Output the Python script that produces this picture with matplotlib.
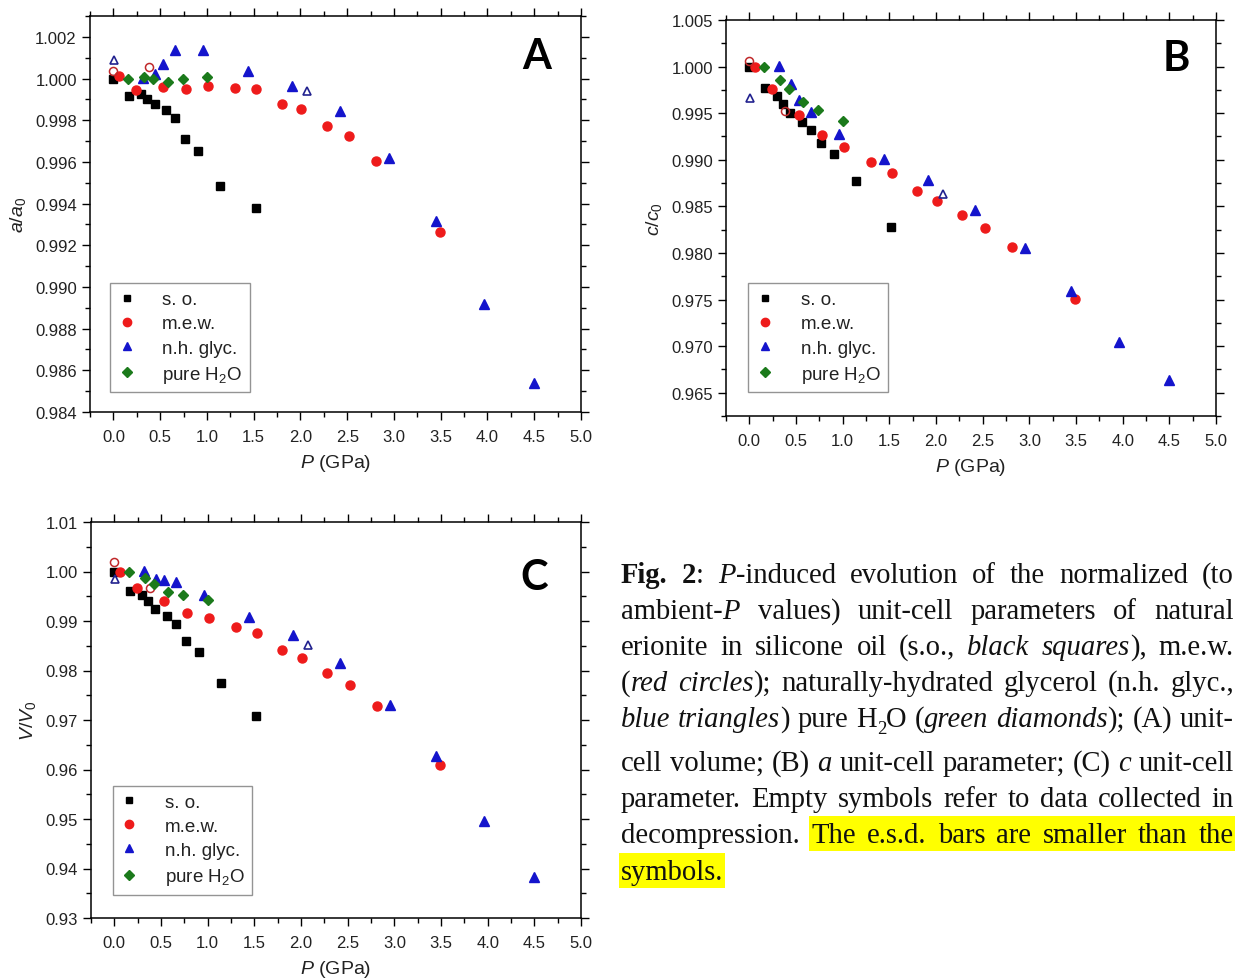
import matplotlib
matplotlib.use("Agg")
import matplotlib.pyplot as plt
from matplotlib.ticker import MultipleLocator, FormatStrFormatter
from matplotlib.patches import Rectangle
from matplotlib.lines import Line2D

# ---------------- data ----------------
P_so = [0.00, 0.17, 0.30, 0.36, 0.44, 0.56, 0.66, 0.77, 0.91, 1.14, 1.52]
P_mew = [0.06, 0.24, 0.53, 0.78, 1.01, 1.30, 1.53, 1.80, 2.01, 2.28, 2.52, 2.81, 3.49]
P_mew_dec = [0.00, 0.38]
P_glyc = [0.32, 0.45, 0.53, 0.66, 0.96, 1.44, 1.91, 2.42, 2.95, 3.45, 3.96, 4.50]
P_glyc_dec = [0.01, 2.07]
P_h2o = [0.16, 0.33, 0.42, 0.58, 0.74, 1.00]

# panel A : a/a0
a_so = [1.0000, 0.99918, 0.99925, 0.99902, 0.99878, 0.99851, 0.99810, 0.99709, 0.99650, 0.99486, 0.99380]
a_mew = [1.00013, 0.99947, 0.99960, 0.99952, 0.99963, 0.99955, 0.99952, 0.99878, 0.99853, 0.99773, 0.99723, 0.99605, 0.99264]
a_mew_dec = [1.00037, 1.00056]
a_glyc = [1.00003, 1.00024, 1.00072, 1.00136, 1.00136, 1.00037, 0.99966, 0.99843, 0.99621, 0.99317, 0.98920, 0.98538]
a_glyc_dec = [1.00091, 0.99939]
a_h2o = [1.0000, 1.00008, 0.99998, 0.99981, 0.99997, 1.00006]

# panel B : c/c0
c_so = [1.0000, 0.99775, 0.99681, 0.99599, 0.99499, 0.99409, 0.99316, 0.99177, 0.99062, 0.98772, 0.98283]
c_mew = [0.99996, 0.99764, 0.99485, 0.99270, 0.99134, 0.98976, 0.98858, 0.98663, 0.98556, 0.98404, 0.98270, 0.98061, 0.97511]
c_mew_dec = [1.00061, 0.99520]
c_glyc = [1.00007, 0.99810, 0.99642, 0.99517, 0.99281, 0.99005, 0.98785, 0.98457, 0.98054, 0.97593, 0.97043, 0.96639]
c_glyc_dec = [0.99667, 0.98629]
c_h2o = [1.0000, 0.99860, 0.99757, 0.99624, 0.99531, 0.99413]

# panel C : V/V0
V_so = [1.0000, 0.99608, 0.99534, 0.99399, 0.99250, 0.99108, 0.98932, 0.98588, 0.98365, 0.97757, 0.97078]
V_mew = [1.0000, 0.99662, 0.99405, 0.99169, 0.99068, 0.98885, 0.98757, 0.98412, 0.98257, 0.97953, 0.97716, 0.97277, 0.96081]
V_mew_dec = [1.00189, 0.99676]
V_glyc = [1.00014, 0.99858, 0.99831, 0.99797, 0.99534, 0.99074, 0.98716, 0.98155, 0.97311, 0.96264, 0.94960, 0.93831]
V_glyc_dec = [0.99845, 0.98514]
V_h2o = [1.0000, 0.99865, 0.99743, 0.99581, 0.99520, 0.99419]

series_labels = ["s. o.", "m.e.w.", "n.h. glyc.", "pure H$_2$O"]
panel_letters = ["A", "B", "C"]

# ---------------- style ----------------
plt.rcParams['font.family'] = ['Liberation Sans', 'DejaVu Sans']
plt.rcParams['mathtext.fontset'] = 'custom'
plt.rcParams['mathtext.rm'] = 'Liberation Sans'
plt.rcParams['mathtext.it'] = 'Liberation Sans:italic'
plt.rcParams['mathtext.bf'] = 'Liberation Sans:bold'

BLACK = '#000000'
RED = '#ee1b1b'
RED_OPEN = '#c0282a'
BLUE = '#1414cc'
BLUE_OPEN = '#22228f'
GREEN = '#1b7a1b'
TICKC = '#222222'

W, H = 1239, 979
fig = plt.figure(figsize=(W / 100, H / 100), dpi=100)


def add_axes_px(left, top, right, bottom):
    return fig.add_axes([left / W, 1 - bottom / H, (right - left) / W, (bottom - top) / H])


def draw_panel(ax, so, mew, mew_dec, glyc, glyc_dec, h2o, ylim, major, minor, fmt,
               ylabel, letter, letter_xy, leg_anchor):
    ax.plot(P_so, so, 's', color=BLACK, ms=5.4, mec=BLACK, ls='none', zorder=3)
    ax.plot(P_mew, mew, 'o', color=RED, ms=6.5, mec=RED, ls='none', zorder=3)
    ax.plot(P_mew_dec, mew_dec, 'o', mfc='none', mec=RED_OPEN, mew=1.1, ms=5.8, ls='none', zorder=3)
    ax.plot(P_glyc, glyc, '^', color=BLUE, ms=6.8, mec=BLUE, ls='none', zorder=3)
    ax.plot(P_glyc_dec, glyc_dec, '^', mfc='none', mec=BLUE_OPEN, mew=1.2, ms=6.4, ls='none', zorder=3)
    ax.plot(P_h2o, h2o, 'D', color=GREEN, ms=5.4, mec=GREEN, ls='none', zorder=4)

    ax.set_xlim(-0.25, 5.0)
    ax.set_ylim(*ylim)
    ax.xaxis.set_major_locator(MultipleLocator(0.5))
    ax.xaxis.set_minor_locator(MultipleLocator(0.25))
    ax.yaxis.set_major_locator(MultipleLocator(major))
    ax.yaxis.set_minor_locator(MultipleLocator(minor))
    ax.xaxis.set_major_formatter(FormatStrFormatter('%.1f'))
    ax.yaxis.set_major_formatter(FormatStrFormatter(fmt))
    ax.tick_params(which='both', direction='out', top=True, right=True,
                   labeltop=False, labelright=False, colors=BLACK, labelcolor=TICKC,
                   labelsize=12, width=1.0)
    ax.tick_params(which='major', length=6)
    ax.tick_params(which='minor', length=3.5)
    ax.tick_params(axis='x', pad=6)
    for s in ax.spines.values():
        s.set_linewidth(1.1)
    ax.set_xlabel(r'$P$ (GPa)', fontsize=14, color=TICKC, labelpad=6)
    ax.set_ylabel(ylabel, fontsize=14, color=TICKC, labelpad=5)
    ax.text(letter_xy[0], letter_xy[1], letter, transform=ax.transAxes,
            fontsize=30, fontweight='bold', family='Lato', ha='center', va='center')

    handles = [
        Line2D([], [], marker='s', color=BLACK, ls='none', ms=5),
        Line2D([], [], marker='o', color=RED, ls='none', ms=6),
        Line2D([], [], marker='^', color=BLUE, ls='none', ms=6.2),
        Line2D([], [], marker='D', color=GREEN, ls='none', ms=5),
    ]
    leg = ax.legend(handles, series_labels, loc='lower left', bbox_to_anchor=leg_anchor,
                    borderaxespad=0, fontsize=13.5, frameon=True, fancybox=False,
                    edgecolor='#7a7a7a', handlelength=1.0, handletextpad=1.4,
                    borderpad=0.4, labelspacing=0.38)
    leg.get_frame().set_linewidth(1.0)
    for t in leg.get_texts():
        t.set_color(TICKC)


axA = add_axes_px(90, 17, 581, 413)
axB = add_axes_px(726, 21, 1216, 417)
axC = add_axes_px(91, 523, 581, 919)

draw_panel(axA, a_so, a_mew, a_mew_dec, a_glyc, a_glyc_dec, a_h2o, (0.984, 1.003), 0.002, 0.001,
           '%.3f', r'$a/a_{\mathit{0}}$', panel_letters[0], (0.909, 0.9), (0.04, 0.05))
draw_panel(axB, c_so, c_mew, c_mew_dec, c_glyc, c_glyc_dec, c_h2o, (0.9625, 1.005), 0.005, 0.0025,
           '%.3f', r'$c/c_{\mathit{0}}$', panel_letters[1], (0.92, 0.905), (0.045, 0.06))
draw_panel(axC, V_so, V_mew, V_mew_dec, V_glyc, V_glyc_dec, V_h2o, (0.93, 1.01), 0.01, 0.005,
           '%.2f', r'$V/V_{\mathit{0}}$', panel_letters[2], (0.905, 0.86), (0.044, 0.059))

# ---------------- caption (justified) ----------------
def R(s):
    return [(s, 'r')]

cap_lines = [
    [[('Fig.', 'b')], [('2', 'b'), (':', 'r')], [('P', 'i'), ('-induced', 'r')], R('evolution'), R('of'),
     R('the'), R('normalized'), R('(to')],
    [[('ambient-', 'r'), ('P', 'i')], R('values)'), R('unit-cell'), R('parameters'), R('of'), R('natural')],
    [R('erionite'), R('in'), R('silicone'), R('oil'), R('(s.o.,'), [('black', 'i')],
     [('squares', 'i'), ('),', 'r')], R('m.e.w.')],
    [[('(', 'r'), ('red', 'i')], [('circles', 'i'), (');', 'r')], R('naturally-hydrated'), R('glycerol'),
     R('(n.h.'), R('glyc.,')],
    [[('blue', 'i')], [('triangles', 'i'), (')', 'r')], R('pure'), [('H', 'r'), ('2', 'sub'), ('O', 'r')],
     [('(', 'r'), ('green', 'i')], [('diamonds', 'i'), (');', 'r')], R('(A)'), R('unit-')],
    [R('cell'), R('volume;'), R('(B)'), [('a', 'i')], R('unit-cell'), R('parameter;'), R('(C)'), [('c', 'i')],
     R('unit-cell')],
    [R('parameter.'), R('Empty'), R('symbols'), R('refer'), R('to'), R('data'), R('collected'), R('in')],
    [R('decompression.'), R('The'), R('e.s.d.'), R('bars'), R('are'), R('smaller'), R('than'), R('the')],
    [R('symbols.')],
]
cap_baselines = [583, 619, 655, 691, 727, 771, 807, 843, 880]
cap_justify = [True] * 8 + [False]
highlight_from = {7: 1, 8: 0}
CAP_L, CAP_R = 621, 1234
CAP_FS = 20.6
SERIF = ['Liberation Serif', 'DejaVu Serif']

fig.canvas.draw()
renderer = fig.canvas.get_renderer()


def make_run(text, style, x, y):
    kw = dict(fontsize=CAP_FS, family=SERIF, color='#111111', va='baseline', ha='left',
              transform=None, zorder=5)
    yy = y
    if style == 'b':
        kw['fontweight'] = 'bold'
    elif style == 'i':
        kw['fontstyle'] = 'italic'
    elif style == 'sub':
        kw['fontsize'] = CAP_FS * 0.65
        yy = y - 7
    t = fig.text(x, yy, text, **kw)
    return t


def word_width(word):
    w = 0
    for text, style in word:
        t = make_run(text, style, 0, 0)
        w += t.get_window_extent(renderer).width
        t.remove()
    return w


space_w = word_width([('a a', 'r')]) - 2 * word_width([('a', 'r')])

for li, words in enumerate(cap_lines):
    ybase = H - cap_baselines[li]
    widths = [word_width(wd) for wd in words]
    if cap_justify[li] and len(words) > 1:
        gap = (CAP_R - CAP_L - sum(widths)) / (len(words) - 1)
        gap = max(gap, space_w * 0.6)
    else:
        gap = space_w
    x = CAP_L
    starts = []
    for wd, ww in zip(words, widths):
        starts.append(x)
        xx = x
        for text, style in wd:
            t = make_run(text, style, xx, ybase)
            xx += t.get_window_extent(renderer).width
        x += ww + gap
    if li in highlight_from:
        hs = starts[highlight_from[li]] - 2
        he = (CAP_R + 1) if cap_justify[li] else (starts[-1] + widths[-1] + 2)
        rect = Rectangle((hs, ybase - 9), he - hs, 35, transform=None,
                         facecolor='#ffff00', edgecolor='none', zorder=1)
        fig.patches.append(rect)

fig.savefig('out.png', dpi=100)
